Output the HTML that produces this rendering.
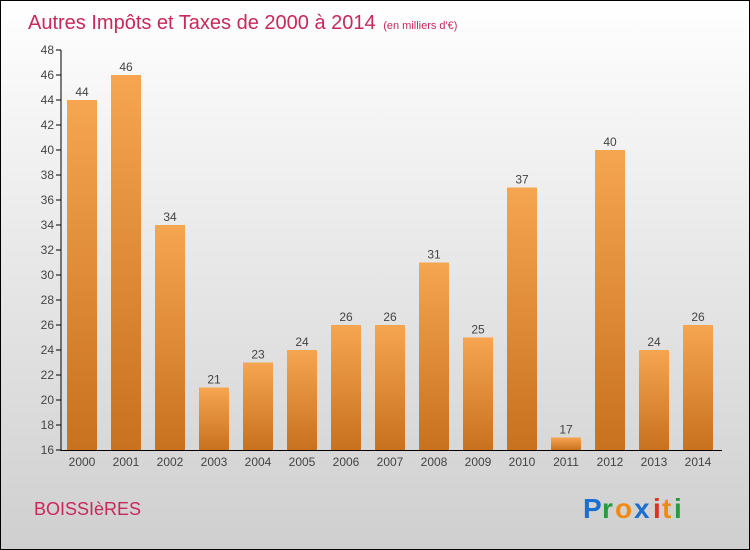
<!DOCTYPE html>
<html><head><meta charset="utf-8"><style>
body{margin:0}
#c{position:relative;width:748px;height:548px;border:1px solid #000;background:linear-gradient(#fff 0%,#f0f0f0 30%,#cfcfcf 100%);overflow:hidden;font-family:"Liberation Sans",sans-serif}
</style></head><body>
<div id="c">
<svg width="748" height="548" style="position:absolute;left:0;top:0">
<defs><linearGradient id="bg" x1="0" y1="0" x2="0" y2="1"><stop offset="0" stop-color="#f6a550"/><stop offset="1" stop-color="#c8711f"/></linearGradient></defs>
<text x="27" y="28" font-size="20" fill="#c8285a">Autres Impôts et Taxes de 2000 à 2014 <tspan font-size="11" dx="2">(en milliers d'€)</tspan></text>
<g id="plot"></g>
<text x="33" y="514" font-size="18" fill="#c8285a">BOISSIèRES</text>
<g font-size="28" font-weight="bold">
<text x="582" y="517" fill="#1a6fd0">P</text><text x="601" y="517" fill="#2a9a3a">r</text><text x="614" y="517" fill="#f08a10">o</text><text x="633" y="517" fill="#1a6fd0">x</text><text x="652" y="517" fill="#e03020">i</text><text x="661" y="517" fill="#f08a10">t</text><text x="673" y="517" fill="#2a9a3a">i</text>
</g>
</svg>
</div>
<script>
const years=["2000","2001","2002","2003","2004","2005","2006","2007","2008","2009","2010","2011","2012","2013","2014"];
const values=[44,46,34,21,23,24,26,26,31,25,37,17,40,24,26];
const ticks=[16,18,20,22,24,26,28,30,32,34,36,38,40,42,44,46,48];
const NS="http://www.w3.org/2000/svg";
const g=document.getElementById("plot");
const y=v=>449-(v-16)*12.5;
const x=i=>59+44*i;
function mk(t,a,txt){const e=document.createElementNS(NS,t);for(const k in a)e.setAttribute(k,a[k]);if(txt!=null)e.textContent=txt;g.appendChild(e);return e;}
ticks.forEach(t=>{
const l=mk("line",{x1:55,x2:60,y1:y(t),y2:y(t),stroke:"#000"});


const tx=mk("text",{x:53,y:y(t)+4,"font-size":12,fill:"#444","text-anchor":"end"},t);


});
values.forEach((v,i)=>{
const r=mk("rect",{x:x(i)+7,y:y(v),width:30,height:y(16)-y(v),fill:"url(#bg)"});


const vt=mk("text",{x:x(i)+22,y:y(v)-4,"font-size":12,fill:"#444","text-anchor":"middle"},v);


const xt=mk("text",{x:x(i)+22,y:465,"font-size":12,fill:"#444","text-anchor":"middle"},years[i]);


});
const ya=mk("line",{x1:60,x2:60,y1:49,y2:450,stroke:"#000"});


const xa=mk("line",{x1:60,x2:721,y1:449.5,y2:449.5,stroke:"#000"});


</script>
</body></html>
